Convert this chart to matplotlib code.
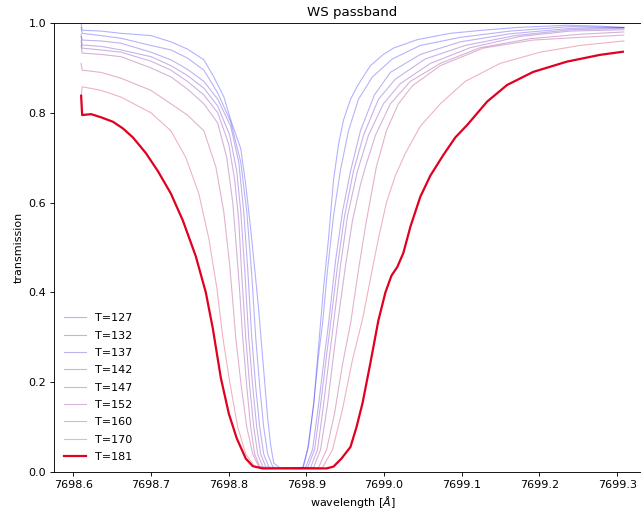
import matplotlib
matplotlib.use("Agg")
import matplotlib.pyplot as plt

temperatures = [127, 132, 137, 142, 147, 152, 160, 170, 181]

wl_127 = [7698.6103, 7698.6116, 7698.6359, 7698.6616, 7698.7001, 7698.7258, 7698.7470, 7698.7682, 7698.7810, 7698.7938,
          7698.8028, 7698.8157, 7698.8221, 7698.8285, 7698.8349, 7698.8388, 7698.8426, 7698.8465, 7698.8503, 7698.8542,
          7698.8580, 7698.8670, 7698.8927, 7698.8965, 7698.9030, 7698.9094, 7698.9158, 7698.9222, 7698.9286, 7698.9350,
          7698.9415, 7698.9479, 7698.9569, 7698.9658, 7698.9825, 7698.9992, 7699.0121, 7699.0429, 7699.0852, 7699.1276,
          7699.1712, 7699.2354, 7699.2778, 7699.3086]
tr_127 = [1.0, 0.984, 0.982, 0.977, 0.972, 0.958, 0.942, 0.918, 0.88, 0.836,
          0.784, 0.72, 0.64, 0.54, 0.43, 0.36, 0.28, 0.20, 0.12, 0.06,
          0.02, 0.008, 0.007, 0.012, 0.06, 0.15, 0.28, 0.41, 0.52, 0.65,
          0.73, 0.784, 0.83, 0.86, 0.905, 0.93, 0.944, 0.963, 0.977, 0.984,
          0.99, 0.995, 0.993, 0.99]

wl_132 = [7698.6103, 7698.6116, 7698.6359, 7698.6616, 7698.7001, 7698.7258, 7698.7470, 7698.7682, 7698.7861, 7698.8028,
          7698.8157, 7698.8234, 7698.8298, 7698.8349, 7698.8401, 7698.8452, 7698.8503, 7698.8567, 7698.8632, 7698.8953,
          7698.9017, 7698.9094, 7698.9158, 7698.9209, 7698.9273, 7698.9350, 7698.9440, 7698.9543, 7698.9671, 7698.9851,
          7699.0108, 7699.0467, 7699.0981, 7699.1623, 7699.2393, 7699.3086]
tr_132 = [0.99, 0.977, 0.972, 0.966, 0.95, 0.94, 0.922, 0.895, 0.844, 0.78,
          0.69, 0.58, 0.44, 0.30, 0.19, 0.10, 0.04, 0.012, 0.008, 0.01,
          0.05, 0.15, 0.26, 0.33, 0.45, 0.57, 0.673, 0.76, 0.83, 0.88,
          0.92, 0.95, 0.968, 0.982, 0.992, 0.99]

wl_137 = [7698.6103, 7698.6116, 7698.6359, 7698.6616, 7698.7001, 7698.7258, 7698.7470, 7698.7682, 7698.7861, 7698.8028,
          7698.8131, 7698.8195, 7698.8247, 7698.8298, 7698.8349, 7698.8401, 7698.8452, 7698.8516, 7698.8593, 7698.8991,
          7698.9081, 7698.9158, 7698.9235, 7698.9286, 7698.9376, 7698.9466, 7698.9569, 7698.9697, 7698.9877, 7699.0082,
          7699.0467, 7699.0981, 7699.1623, 7699.2393, 7699.3086]
tr_137 = [0.975, 0.962, 0.96, 0.955, 0.935, 0.918, 0.897, 0.87, 0.83, 0.77,
          0.69, 0.58, 0.45, 0.30, 0.19, 0.10, 0.04, 0.012, 0.008, 0.01,
          0.05, 0.15, 0.26, 0.33, 0.47, 0.58, 0.67, 0.76, 0.84, 0.89,
          0.93, 0.958, 0.976, 0.988, 0.99]

wl_142 = [7698.6103, 7698.6116, 7698.6359, 7698.6616, 7698.7001, 7698.7258, 7698.7470, 7698.7682, 7698.7861, 7698.8015,
          7698.8105, 7698.8157, 7698.8208, 7698.8259, 7698.8311, 7698.8362, 7698.8413, 7698.8478, 7698.8555, 7698.9017,
          7698.9107, 7698.9184, 7698.9261, 7698.9312, 7698.9402, 7698.9492, 7698.9607, 7698.9736, 7698.9928, 7699.0146,
          7699.0531, 7699.1045, 7699.1687, 7699.2393, 7699.3086]
tr_142 = [0.97, 0.951, 0.948, 0.94, 0.925, 0.905, 0.883, 0.855, 0.815, 0.75,
          0.67, 0.58, 0.45, 0.30, 0.19, 0.10, 0.04, 0.012, 0.008, 0.01,
          0.05, 0.15, 0.26, 0.33, 0.46, 0.57, 0.67, 0.75, 0.83, 0.875,
          0.92, 0.95, 0.972, 0.985, 0.988]

wl_147 = [7698.6103, 7698.6116, 7698.6359, 7698.6616, 7698.7001, 7698.7258, 7698.7470, 7698.7682, 7698.7861, 7698.8003,
          7698.8079, 7698.8131, 7698.8169, 7698.8221, 7698.8272, 7698.8324, 7698.8375, 7698.8439, 7698.8516, 7698.9055,
          7698.9145, 7698.9222, 7698.9299, 7698.9350, 7698.9440, 7698.9530, 7698.9658, 7698.9800, 7698.9992, 7699.0210,
          7699.0596, 7699.1109, 7699.1751, 7699.2393, 7699.3086]
tr_147 = [0.96, 0.944, 0.94, 0.935, 0.915, 0.895, 0.870, 0.84, 0.80, 0.73,
          0.65, 0.56, 0.44, 0.30, 0.19, 0.10, 0.04, 0.012, 0.008, 0.01,
          0.05, 0.15, 0.26, 0.33, 0.46, 0.57, 0.67, 0.75, 0.82, 0.865,
          0.91, 0.945, 0.97, 0.982, 0.985]

wl_152 = [7698.6103, 7698.6116, 7698.6359, 7698.6616, 7698.7001, 7698.7258, 7698.7470, 7698.7682, 7698.7861, 7698.7977,
          7698.8054, 7698.8105, 7698.8144, 7698.8182, 7698.8234, 7698.8285, 7698.8336, 7698.8401, 7698.8478, 7698.9094,
          7698.9184, 7698.9273, 7698.9350, 7698.9402, 7698.9505, 7698.9594, 7698.9697, 7698.9761, 7698.9890, 7699.0082,
          7699.0339, 7699.0724, 7699.1237, 7699.1879, 7699.2521, 7699.3086]
tr_152 = [0.95, 0.933, 0.93, 0.925, 0.90, 0.88, 0.853, 0.82, 0.777, 0.70,
          0.60, 0.49, 0.40, 0.30, 0.19, 0.10, 0.04, 0.012, 0.008, 0.01,
          0.05, 0.15, 0.26, 0.33, 0.46, 0.56, 0.64, 0.68, 0.75, 0.82,
          0.87, 0.91, 0.945, 0.965, 0.975, 0.98]

wl_160 = [7698.6103, 7698.6116, 7698.6359, 7698.6616, 7698.7001, 7698.7258, 7698.7470, 7698.7682, 7698.7836, 7698.7938,
          7698.8015, 7698.8054, 7698.8092, 7698.8157, 7698.8234, 7698.8311, 7698.8388, 7698.8478, 7698.9158, 7698.9261,
          7698.9363, 7698.9466, 7698.9569, 7698.9671, 7698.9774, 7698.9902, 7699.0031, 7699.0185, 7699.0365, 7699.0724,
          7699.1276, 7699.1918, 7699.2521, 7699.3086]
tr_160 = [0.91, 0.895, 0.89, 0.877, 0.85, 0.82, 0.795, 0.76, 0.68, 0.58,
          0.46, 0.38, 0.30, 0.20, 0.10, 0.04, 0.012, 0.008, 0.01, 0.05,
          0.13, 0.24, 0.33, 0.45, 0.56, 0.68, 0.76, 0.82, 0.86, 0.905,
          0.944, 0.962, 0.968, 0.973]

wl_170 = [7698.6103, 7698.6116, 7698.6359, 7698.6616, 7698.7001, 7698.7258, 7698.7451, 7698.7617, 7698.7746, 7698.7849,
          7698.7926, 7698.8015, 7698.8118, 7698.8221, 7698.8336, 7698.8439, 7698.9209, 7698.9338, 7698.9466, 7698.9594,
          7698.9723, 7698.9825, 7698.9928, 7699.0031, 7699.0146, 7699.0275, 7699.0467, 7699.0724, 7699.1045, 7699.1494,
          7699.2008, 7699.2521, 7699.3086]
tr_170 = [0.835, 0.858, 0.85, 0.835, 0.80, 0.76, 0.70, 0.62, 0.52, 0.41,
          0.30, 0.20, 0.10, 0.04, 0.012, 0.008, 0.01, 0.05, 0.14, 0.25,
          0.34, 0.43, 0.52, 0.60, 0.66, 0.71, 0.77, 0.82, 0.87, 0.91,
          0.935, 0.95, 0.96]

wl_181 = [7698.6103, 7698.6116, 7698.6231, 7698.6359, 7698.6513, 7698.6642, 7698.6770, 7698.6937, 7698.7091, 7698.7258,
          7698.7412, 7698.7579, 7698.7707, 7698.7797, 7698.7900, 7698.8003, 7698.8105, 7698.8221, 7698.8311, 7698.8439,
          7698.9261, 7698.9350, 7698.9453, 7698.9569, 7698.9646, 7698.9723, 7698.9825, 7698.9928, 7699.0018, 7699.0095,
          7699.0172, 7699.0249, 7699.0339, 7699.0467, 7699.0596, 7699.0763, 7699.0917, 7699.1071, 7699.1327, 7699.1584,
          7699.1918, 7699.2354, 7699.2778, 7699.3073]
tr_181 = [0.838, 0.795, 0.797, 0.79, 0.78, 0.765, 0.745, 0.71, 0.67, 0.62,
          0.56, 0.48, 0.40, 0.32, 0.21, 0.13, 0.075, 0.03, 0.013, 0.008,
          0.008, 0.012, 0.03, 0.056, 0.10, 0.153, 0.243, 0.338, 0.40, 0.437,
          0.457, 0.488, 0.546, 0.613, 0.66, 0.706, 0.745, 0.773, 0.825, 0.862,
          0.891, 0.914, 0.929, 0.936]

wavelengths = [wl_127, wl_132, wl_137, wl_142, wl_147, wl_152, wl_160, wl_170, wl_181]
transmissions = [tr_127, tr_132, tr_137, tr_142, tr_147, tr_152, tr_160, tr_170, tr_181]

x_ticks = [7698.6, 7698.7, 7698.8, 7698.9, 7699.0, 7699.1, 7699.2, 7699.3]
x_tick_labels = ["7698.6", "7698.7", "7698.8", "7698.9", "7699.0", "7699.1", "7699.2", "7699.3"]
y_ticks = [0.0, 0.2, 0.4, 0.6, 0.8, 1.0]
y_tick_labels = ["0.0", "0.2", "0.4", "0.6", "0.8", "1.0"]

W, H = 641, 512
DPI = 80
fig = plt.figure(figsize=(W / DPI, H / DPI), dpi=DPI)
ax = fig.add_axes([54 / W, 40 / H, (651 - 54) / W, (472 - 23) / H])

tmin, tmax = temperatures[0], temperatures[-1]
for T, wl, tr in zip(temperatures, wavelengths, transmissions):
    t = (T - tmin) / (tmax - tmin)
    if T == tmax:
        ax.plot(wl, tr, color="#e0001f", lw=2, label=f"T={T}")
    else:
        ax.plot(wl, tr, color=(t, 0.0, 1.0 - t), alpha=0.3, lw=1, label=f"T={T}")

ax.margins(x=0.05)
ax.set_ylim(0, 1)
ax.set_xticks(x_ticks)
ax.set_xticklabels(x_tick_labels)
ax.set_yticks(y_ticks)
ax.set_yticklabels(y_tick_labels)
ax.set_title("WS passband")
ax.set_xlabel("wavelength [$\\AA$]")
ax.set_ylabel("transmission")
ax.legend(loc="lower left", frameon=False, labelspacing=0.66)

fig.savefig("out.png", dpi=DPI)
